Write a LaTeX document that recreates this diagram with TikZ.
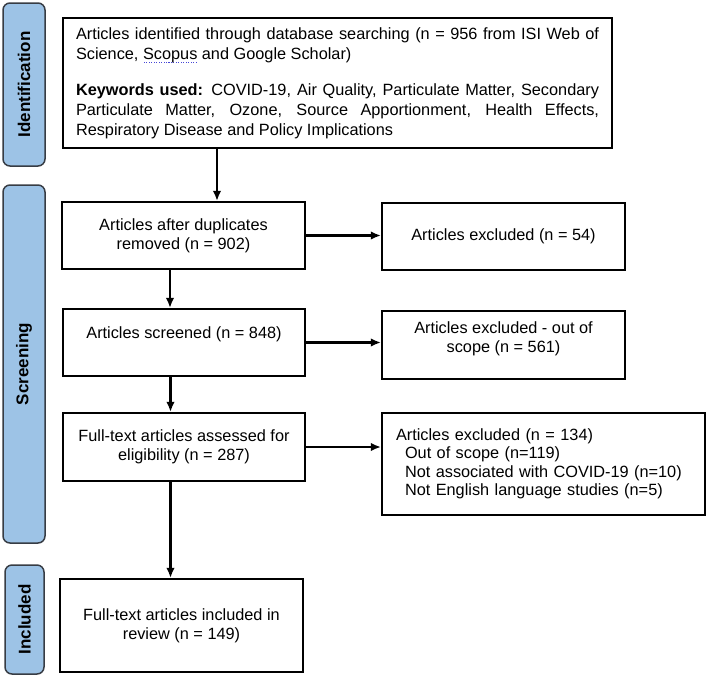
\documentclass[tikz,border=0pt]{standalone}
\usepackage{fontspec}
\setmainfont{Liberation Sans}
\usepackage{xcolor}
\usetikzlibrary{arrows.meta}
\definecolor{azulpes}{RGB}{157,195,230}
\definecolor{bordepes}{RGB}{55,60,68}
\definecolor{azulsub}{RGB}{70,70,215}
\newcommand\subrayado[1]{\setbox0\hbox{#1}\leavevmode\rlap{\raisebox{-3.5pt}{\color{azulsub}\hbox to \wd0{\xleaders\hbox to 2.4pt{\hss\rule{1.1pt}{1.1pt}\hss}\hfill}}}#1}

\begin{document}
\begin{tikzpicture}[x=1pt,y=-1pt,>={Latex[length=10pt,width=8.5pt]},
	caja/.style={draw=black,line width=2.1pt,fill=white,inner sep=0pt,align=center,font=\fontsize{16.3}{19}\selectfont},
	pestana/.style={draw=bordepes,line width=1.5pt,fill=azulpes,rounded corners=7pt,inner sep=0pt,rotate=90,font=\fontsize{17}{20}\selectfont\bfseries},
	flecha/.style={->,line width=2.1pt}]
		\useasboundingbox (0,0) rectangle (708,680);
		% las pestanas de la izquierda
		\foreach \Nombre/\Xc/\Yc/\Alto/\Ancho/\Texto in
		{ident/24/84.5/163/42/Identification, cribpes/24/364/358/42/Screening, inclpes/24.5/619.5/109/39/Included}
		{
			\node[pestana,minimum width=\Alto pt,minimum height=\Ancho pt] (\Nombre) at (\Xc,\Yc) {\Texto};
		}
		% la busqueda
		\node[caja,minimum width=549pt,minimum height=130pt,text width=523pt,inner xsep=13pt,align=justify,font=\fontsize{16.3}{20}\selectfont] (busqueda) at (337.5,83)
		{Articles identified through database searching (n = 956 from ISI Web of\linebreak Science, \subrayado{Scopus} and Google Scholar)\\[16pt]
		\textbf{Keywords used:} COVID-19, Air Quality, Particulate Matter, Secondary\linebreak Particulate Matter, Ozone, Source Apportionment, Health Effects,\linebreak Respiratory Disease and Policy Implications};
		\node[caja,minimum width=243pt,minimum height=67pt] (duplic) at (183.5,235.5) {Articles after duplicates\\removed (n = 902)};
		\node[caja,minimum width=242pt,minimum height=67pt] (cribado) at (184,342.5) {Articles screened (n = 848)\\\mbox{}};
		\node[caja,minimum width=242pt,minimum height=68pt] (completo) at (184,447) {Full-text articles assessed for\\eligibility (n = 287)};
		\node[caja,minimum width=243pt,minimum height=93pt] (incluido) at (181.5,625.5) {Full-text articles included in\\review (n = 149)};
		% los excluidos
		\node[caja,minimum width=243pt,minimum height=67pt] (excl1) at (503.5,236.5) {Articles excluded (n = 54)};
		\node[caja,minimum width=243pt,minimum height=68pt] (excl2) at (503.5,345) {Articles excluded - out of\\scope (n = 561)\\[-4pt]\mbox{}};
		\node[caja,minimum width=323pt,minimum height=102pt,text width=295pt,inner xsep=14pt,align=left,font=\fontsize{16.3}{18.5}\selectfont] (excl3) at (543.5,464)
		{Articles excluded (n = 134)\\
		\hspace*{9pt}Out of scope (n=119)\\
		\hspace*{9pt}Not associated with COVID-19 (n=10)\\
		\hspace*{9pt}Not English language studies (n=5)};
		% flechas
		\draw[flecha] ([xshift=-120.5pt]busqueda.south) -- ([xshift=-120.5pt]busqueda.south |- duplic.north);
		\foreach \De/\A in {duplic/cribado, cribado/completo, completo/incluido}
		{
			\draw[flecha] ([xshift=-13.5pt]\De.south) -- ([xshift=-13.5pt]\De.south |- \A.north);
		}
		\foreach \De/\A in {duplic/excl1, cribado/excl2, completo/excl3}
		{
			\draw[flecha] (\De.east) -- (\De.east -| \A.west);
		}
\end{tikzpicture}
\end{document}
